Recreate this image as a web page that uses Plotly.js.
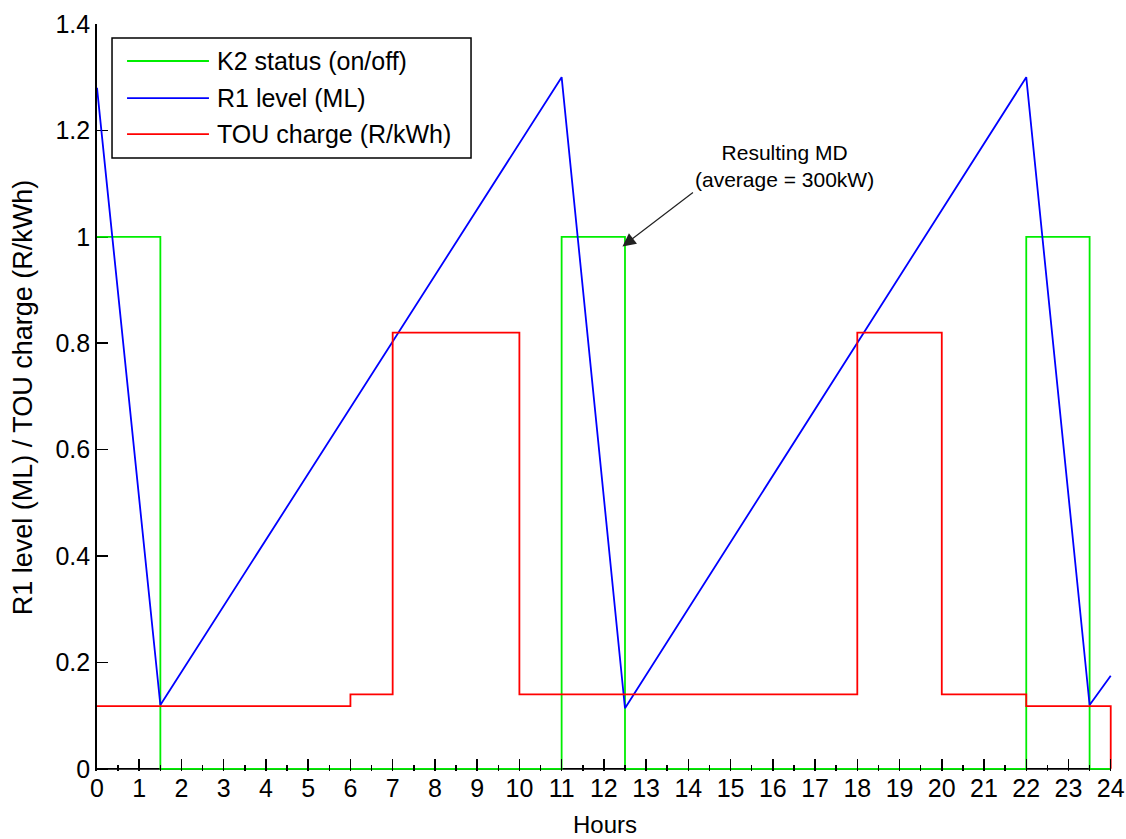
<!DOCTYPE html>
<html>
<head>
<meta charset="utf-8">
<script src="https://cdn.plot.ly/plotly-3.0.1.min.js"></script>
<style>html,body{margin:0;padding:0;background:#fff;}#chart{width:1126px;height:839px;}</style>
</head>
<body>
<div id="chart"></div>
<script>
// ---- data ----
const k2Hours   = [0, 1.5, 11, 12.5, 22, 23.5, 24];
const k2Status  = [1, 0, 1, 0, 1, 0, 0];
const r1Hours   = [0, 1.5, 11, 12.5, 22, 23.5, 24];
const r1Level   = [1.28, 0.12, 1.30, 0.114, 1.30, 0.12, 0.175];
const touHours  = [0, 6, 7, 10, 18, 20, 22, 24, 24];
const touCharge = [0.118, 0.14, 0.82, 0.14, 0.82, 0.14, 0.118, 0.118, 0];
const seriesNames  = ['K2 status (on/off)', 'R1 level (ML)', 'TOU charge (R/kWh)'];
const seriesColors = ['#00ee00', '#0000ff', '#ff0000'];
const xTickVals = Array.from({length: 25}, (_, i) => i);
const yTickVals = [0, 0.2, 0.4, 0.6, 0.8, 1, 1.2, 1.4];
const yTickText = ['0', '0.2', '0.4', '0.6', '0.8', '1', '1.2', '1.4'];
const noteText = 'Resulting MD<br>(average = 300kW)';

const FONT = '"Liberation Sans", Arial, Helvetica, sans-serif';

const traces = [
  {x: k2Hours, y: k2Status, name: seriesNames[0], mode: 'lines', line: {color: seriesColors[0], width: 1.8, shape: 'hv'}, cliponaxis: false},
  {x: r1Hours, y: r1Level, name: seriesNames[1], mode: 'lines', line: {color: seriesColors[1], width: 1.8}, cliponaxis: false},
  {x: touHours, y: touCharge, name: seriesNames[2], mode: 'lines', line: {color: seriesColors[2], width: 1.8, shape: 'hv'}, cliponaxis: false}
];

// bottom axis line drawn beneath the traces (so the green trace at 0 covers it)
const shapes = [{type: 'line', xref: 'x', yref: 'y', x0: 0, x1: 24, y0: 0, y1: 0,
  line: {color: '#000', width: 1.8}, layer: 'below'}];

// custom legend (box + line samples + text), in paper coordinates
const legBox = {x0: 0.0148, x1: 0.3685, y0: 0.8206, y1: 0.9813};
const legRows = [0.9505, 0.9009, 0.8527];
shapes.push({type: 'rect', xref: 'paper', yref: 'paper', x0: legBox.x0, x1: legBox.x1, y0: legBox.y0, y1: legBox.y1,
  line: {color: '#000', width: 1.5}, fillcolor: '#fff', layer: 'above'});
const annotations = [];
seriesNames.forEach((n, i) => {
  shapes.push({type: 'line', xref: 'paper', yref: 'paper', x0: 0.0296, x1: 0.1103, y0: legRows[i], y1: legRows[i],
    line: {color: seriesColors[i], width: 1.8}, layer: 'above'});
  annotations.push({xref: 'paper', yref: 'paper', x: 0.1165, y: legRows[i], xanchor: 'left', yanchor: 'middle',
    text: n, showarrow: false, font: {family: FONT, size: 25, color: '#000'}});
});
// arrow
annotations.push({x: 12.44, y: 0.982, xref: 'x', yref: 'y', text: '', showarrow: true, ax: 72, ay: -55,
  arrowhead: 2, arrowsize: 2.2, arrowwidth: 1.2, arrowcolor: '#222'});
// note text
annotations.push({x: 16.27, y: 1.134, xref: 'x', yref: 'y', text: noteText, showarrow: false,
  xanchor: 'center', yanchor: 'middle', align: 'center', font: {family: FONT, size: 21, color: '#000'}});
// x-axis title placed as text below the tick labels
annotations.push({xref: 'paper', yref: 'paper', x: 0.5, y: 0, yshift: -53, xanchor: 'center', yanchor: 'middle',
  text: 'Hours', showarrow: false, font: {family: FONT, size: 24, color: '#000'}});

const layout = {
  width: 1126, height: 839,
  margin: {l: 97, r: 14, t: 24, b: 68},
  paper_bgcolor: '#fff', plot_bgcolor: '#fff',
  showlegend: false,
  font: {family: FONT, size: 25, color: '#000'},
  xaxis: {
    range: [0, 24.03], tickvals: xTickVals, ticks: 'inside', ticklen: 12, tickwidth: 1.5, tickcolor: '#000',
    showline: false, showgrid: false, zeroline: false,
    minor: {dtick: 0.5, ticks: 'inside', ticklen: 6, tickwidth: 1.5, tickcolor: '#000', showgrid: false},
    tickfont: {family: FONT, size: 25},
    automargin: false
  },
  yaxis: {
    range: [-0.004, 1.4], tickvals: yTickVals, ticktext: yTickText, ticks: 'inside', ticklen: 11, tickwidth: 1.5, tickcolor: '#000',
    showline: true, linecolor: '#000', linewidth: 1.8, showgrid: false, zeroline: false, layer: 'below traces',
    tickfont: {family: FONT, size: 25},
    title: {text: 'R1 level (ML) / TOU charge (R/kWh)', font: {family: FONT, size: 27}},
    automargin: false
  },
  shapes: shapes,
  annotations: annotations
};

Plotly.newPlot('chart', traces, layout, {displayModeBar: false, staticPlot: true});
</script>
</body>
</html>
